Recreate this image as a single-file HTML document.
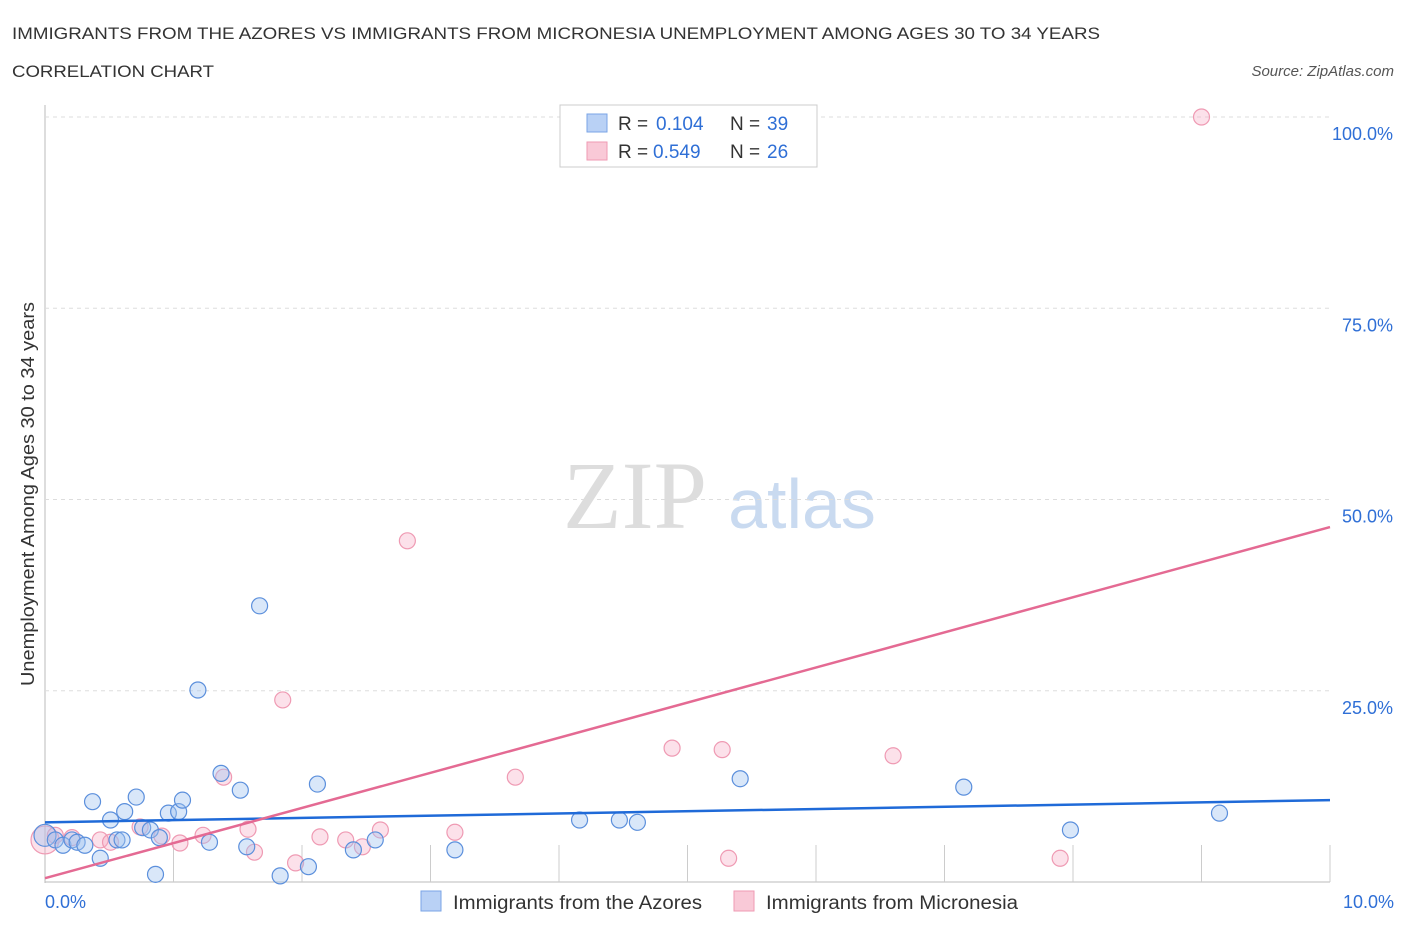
<!DOCTYPE html>
<html><head><meta charset="utf-8"><style>
body{margin:0;background:#fff;font-family:"Liberation Sans",sans-serif;}
</style></head><body>
<svg width="1406" height="930" xmlns="http://www.w3.org/2000/svg" id="svg">
<text x="12" y="39" font-size="17" fill="#333" textLength="1088" lengthAdjust="spacingAndGlyphs">IMMIGRANTS FROM THE AZORES VS IMMIGRANTS FROM MICRONESIA UNEMPLOYMENT AMONG AGES 30 TO 34 YEARS</text>
<text x="12" y="77" font-size="17" fill="#333" textLength="202" lengthAdjust="spacingAndGlyphs">CORRELATION CHART</text>
<text x="1394" y="76" font-size="15" fill="#555" font-style="italic" text-anchor="end">Source: ZipAtlas.com</text>
<text x="635" y="528" font-size="96" fill="#ddd" font-family="Liberation Serif,serif" text-anchor="middle">ZIP</text>
<text x="802" y="528" font-size="70" fill="#c9daf0" text-anchor="middle">atlas</text>
<text transform="translate(34,494) rotate(-90)" font-size="18" fill="#333" text-anchor="middle" textLength="384" lengthAdjust="spacingAndGlyphs">Unemployment Among Ages 30 to 34 years</text>
<g id="grid"></g><g id="pts"></g><g id="lines"></g>
<rect x="560" y="105" width="257" height="62" fill="#fff" stroke="#ccc"/>
<rect x="587" y="114" width="20" height="18" fill="#b9d1f5" stroke="#7aa4e6"/>
<rect x="587" y="142" width="20" height="18" fill="#f9c9d7" stroke="#ef9ab3"/>
<g font-size="19" fill="#333">
<text x="618" y="130">R =</text><text x="656" y="130" fill="#2f6fd6">0.104</text><text x="730" y="130">N =</text><text x="767" y="130" fill="#2f6fd6">39</text></g>
<g font-size="19" fill="#333">
<text x="618" y="158">R =</text><text x="653" y="158" fill="#2f6fd6">0.549</text><text x="730" y="158">N =</text><text x="767" y="158" fill="#2f6fd6">26</text></g>
<rect x="421" y="891" width="20" height="20" fill="#b9d1f5" stroke="#7aa4e6"/>
<text x="453" y="909" font-size="19" fill="#333" textLength="249" lengthAdjust="spacingAndGlyphs">Immigrants from the Azores</text>
<rect x="734" y="891" width="20" height="20" fill="#f9c9d7" stroke="#ef9ab3"/>
<text x="766" y="909" font-size="19" fill="#333" textLength="252" lengthAdjust="spacingAndGlyphs">Immigrants from Micronesia</text>
<text x="45" y="908" font-size="18" fill="#2f6fd6">0.0%</text>
<text x="1394" y="908" font-size="18" fill="#2f6fd6" text-anchor="end">10.0%</text>
</svg>
<script>
const blueX=[0.0,0.08,0.14,0.21,0.25,0.31,0.37,0.43,0.51,0.56,0.60,0.62,0.71,0.76,0.82,0.89,0.96,1.04,1.07,1.19,1.28,1.37,1.52,1.57,1.67,1.83,2.05,2.12,2.40,2.57,3.19,4.16,4.47,4.61,5.41,7.15,7.98,9.14,0.86];
const blueY=[6.1,5.5,4.8,5.5,5.2,4.8,10.5,3.1,8.1,5.5,5.5,9.2,11.1,7.1,6.8,5.8,9.0,9.2,10.7,25.1,5.2,14.2,12.0,4.6,36.1,0.8,2.0,12.8,4.2,5.5,4.2,8.1,8.1,7.8,13.5,12.4,6.8,9.0,1.0];
const pinkX=[0.0,0.08,0.21,0.43,0.51,0.74,0.91,1.05,1.23,1.39,1.58,1.63,1.85,1.95,2.14,2.34,2.47,2.61,2.82,3.19,3.66,4.88,5.27,5.32,6.60,7.90,9.00];
const pinkY=[5.5,6.1,5.8,5.5,5.2,7.2,6.0,5.1,6.1,13.7,6.9,3.9,23.8,2.5,5.9,5.5,4.6,6.8,44.6,6.5,13.7,17.5,17.3,3.1,16.5,3.1,100];
const blueTrend=[7.8,10.7];
const pinkTrend=[0.5,46.4];
const yTicks=[25,50,75,100];
const xs=v=>45+v*128.5, ys=v=>882-v*7.65;
const NS="http://www.w3.org/2000/svg";
function mk(tag,attrs,parent){const e=document.createElementNS(NS,tag);for(const k in attrs)e.setAttribute(k,attrs[k]);document.getElementById(parent).appendChild(e);return e;}
const ax=mk('line',{x1:45,y1:105,x2:45,y2:883,stroke:'#bbb'},'grid');


const bx=mk('line',{x1:45,y1:882,x2:1330,y2:882,stroke:'#bbb'},'grid');


for(let i=1;i<=10;i++){const t=mk('line',{x1:xs(i),y1:845,x2:xs(i),y2:882,stroke:'#ccc'},'grid');

}
yTicks.forEach(v=>{const g=mk('line',{x1:45,y1:ys(v),x2:1330,y2:ys(v),stroke:'#ddd','stroke-dasharray':'4,4'},'grid');


const t=mk('text',{x:1393,y:ys(v)+23,'font-size':18,fill:'#2f6fd6','text-anchor':'end'},'grid');t.textContent=v.toFixed(1)+'%';

});
pinkX.forEach((x,i)=>{const c=mk('circle',{cx:xs(x),cy:ys(pinkY[i]),r:i===0?14:8,fill:'rgba(245,170,195,0.35)',stroke:'#ef9ab3','stroke-width':1.2},'pts');

});
blueX.forEach((x,i)=>{const c=mk('circle',{cx:xs(x),cy:ys(blueY[i]),r:i===0?11:8,fill:'rgba(160,195,240,0.4)',stroke:'#5b8fdc','stroke-width':1.2},'pts');

});
const bl=mk('line',{x1:xs(0),y1:ys(blueTrend[0]),x2:xs(10),y2:ys(blueTrend[1]),stroke:'#1f6ad8','stroke-width':2.5},'lines');


const pl=mk('line',{x1:xs(0),y1:ys(pinkTrend[0]),x2:xs(10),y2:ys(pinkTrend[1]),stroke:'#e46a93','stroke-width':2.5},'lines');


</script>
</body></html>
